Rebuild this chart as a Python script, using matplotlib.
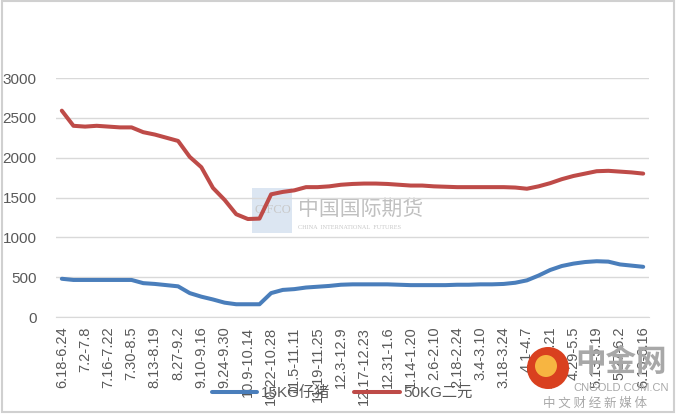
import matplotlib
matplotlib.use("Agg")
import matplotlib.pyplot as plt
from matplotlib.patches import Rectangle, Ellipse
import numpy as np

categories = ["6.18-6.24", "6.25-7.1", "7.2-7.8", "7.9-7.15", "7.16-7.22", "7.23-7.29",
              "7.30-8.5", "8.6-8.12", "8.13-8.19", "8.20-8.26", "8.27-9.2", "9.3-9.9",
              "9.10-9.16", "9.17-9.23", "9.24-9.30", "10.1-10.8", "10.9-10.14", "10.15-10.21",
              "10.22-10.28", "10.29-11.4", "11.5-11.11", "11.12-11.18", "11.19-11.25",
              "11.26-12.2", "12.3-12.9", "12.10-12.16", "12.17-12.23", "12.24-12.30",
              "12.31-1.6", "1.7-1.13", "1.14-1.20", "1.21-1.27", "2.6-2.10", "2.11-2.17",
              "2.18-2.24", "2.25-3.3", "3.4-3.10", "3.11-3.17", "3.18-3.24", "3.25-3.31",
              "4.1-4.7", "4.8-4.14", "4.15-4.21", "4.22-4.28", "4.29-5.5", "5.6-5.12",
              "5.13-5.19", "5.20-5.26", "5.27-6.2", "6.3-6.9", "6.10-6.16"]

piglet_15kg = [480, 465, 465, 465, 465, 465, 465, 425, 415, 400, 385, 300, 255, 220, 180,
               160, 160, 160, 300, 340, 350, 370, 380, 390, 405, 410, 410, 410, 410, 405,
               400, 400, 400, 400, 405, 405, 410, 410, 415, 430, 460, 520, 590, 640, 670,
               690, 700, 695, 660, 645, 630]

pig_50kg = [2590, 2400, 2390, 2400, 2390, 2380, 2380, 2320, 2290, 2250, 2210, 2010, 1880,
            1620, 1470, 1290, 1230, 1235, 1540, 1570, 1590, 1630, 1630, 1640, 1660, 1670,
            1675, 1675, 1670, 1660, 1650, 1650, 1640, 1635, 1630, 1630, 1630, 1630, 1630,
            1625, 1610, 1640, 1680, 1730, 1770, 1800, 1830, 1835, 1825, 1815, 1800]

yticks = [0, 500, 1000, 1500, 2000, 2500, 3000]

FONT = ["Liberation Sans", "Noto Sans CJK SC", "DejaVu Sans"]
plt.rcParams["font.family"] = FONT

W, H = 680, 419
fig = plt.figure(figsize=(W / 100, H / 100), dpi=100)
fig.patch.set_facecolor("white")

ax = fig.add_axes([56 / W, 1 - 317 / H, (649 - 56) / W, (317 - 78) / H])
ax.patch.set_alpha(0)
x = np.arange(len(categories))
ax.plot(x, piglet_15kg, color="#4A7EBB", lw=2.9, solid_capstyle="round", label="15KG仔猪", zorder=3)
ax.plot(x, pig_50kg, color="#BE4B48", lw=2.9, solid_capstyle="round", label="50KG二元", zorder=3)

ax.set_xlim(-0.5, len(categories) - 0.5)
ax.set_ylim(0, 3000)
ax.set_yticks(yticks)
ax.set_yticklabels([str(v) for v in yticks])
ax.yaxis.grid(True, color="#D9D9D9", lw=1)
ax.set_axisbelow(True)
for s in ["top", "right", "left"]:
    ax.spines[s].set_visible(False)
ax.spines["bottom"].set_color("#D9D9D9")
ax.tick_params(axis="y", length=0, pad=14, labelsize=11, labelcolor="#595959")
ax.set_xticks(x[::2])
ax.set_xticklabels(categories[::2], rotation=90, fontsize=10.5, color="#595959")
ax.tick_params(axis="x", length=0, pad=7)

leg = fig.legend(loc="center", bbox_to_anchor=(342 / W, 1 - 393 / H), ncol=2, frameon=False,
                 fontsize=11, handlelength=3.0, columnspacing=1.6, handletextpad=0.2)
for t in leg.get_texts():
    t.set_color("#595959")

# watermark: 中国国际期货 (behind the lines)
fig.patches.append(Rectangle((252 / W, 1 - 233 / H), 40 / W, 45 / H, transform=fig.transFigure,
                             facecolor="#DCE6F2", edgecolor="none", zorder=-1))
fig.text(291 / W, 1 - 210 / H, "CIFCO", ha="right", va="center", fontsize=9, color="#C8C8C8",
         family=["Liberation Serif"], zorder=-1)
fig.text(298 / W, 1 - 209 / H, "中国国际期货", ha="left", va="center", fontsize=15,
         color="#C0C0C0", family=["Noto Sans CJK SC"], zorder=-1)
fig.text(298 / W, 1 - 227 / H, "CHINA  INTERNATIONAL  FUTURES", ha="left", va="center",
         fontsize=4.5, color="#C8C8C8", family=["Liberation Serif"], zorder=-1)

# watermark: 中金网
fig.patches.append(Ellipse((548 / W, 1 - 368 / H), 42 / W, 42 / H, transform=fig.transFigure,
                           facecolor="#D9401F", edgecolor="none", zorder=4))
fig.patches.append(Ellipse((546 / W, 1 - 366 / H), 22 / W, 22 / H, transform=fig.transFigure,
                           facecolor="#F7B541", edgecolor="none", zorder=4))
fig.text(621 / W, 1 - 362 / H, "中金网", ha="center", va="center", fontsize=22,
         color="#A8A8A8", family=["Noto Sans CJK SC"], zorder=4, weight="bold")
fig.text(621 / W, 1 - 388 / H, "CNGOLD.COM.CN", ha="center", va="center", fontsize=8,
         color="#A8A8A8", zorder=4)
fig.text(595 / W, 1 - 403 / H, "中 文 财 经 新 媒 体", ha="center", va="center", fontsize=9,
         color="#A8A8A8", family=["Noto Sans CJK SC"], zorder=4)

# chart border
fig.patches.append(Rectangle((2 / W, 1 - 412 / H), 672 / W, 411 / H, transform=fig.transFigure,
                             facecolor="none", edgecolor="#D0D0D0", lw=1.5, zorder=5))

fig.savefig("out.png", dpi=100, facecolor="white")
